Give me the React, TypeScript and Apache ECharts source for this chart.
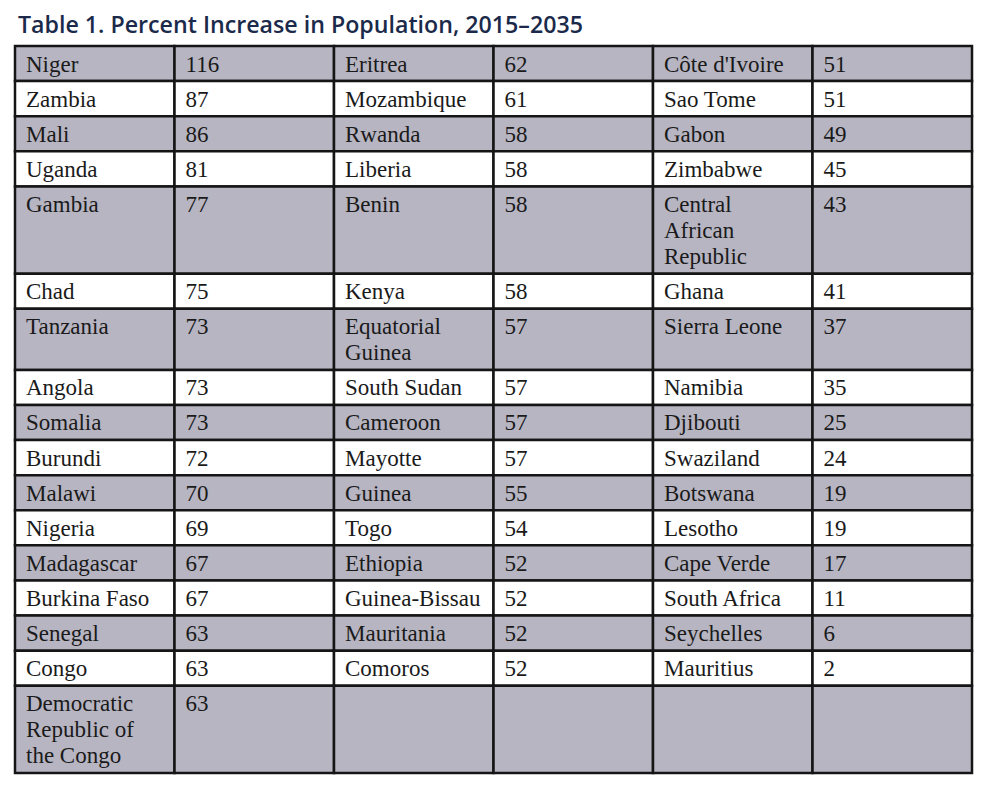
import React, { useEffect, useRef } from "react";
import * as echarts from "echarts";

const titleText = "Table 1. Percent Increase in Population, 2015–2035";

const countries1 = ["Niger", "Zambia", "Mali", "Uganda", "Gambia", "Chad", "Tanzania", "Angola", "Somalia", "Burundi", "Malawi", "Nigeria", "Madagascar", "Burkina Faso", "Senegal", "Congo", "Democratic\nRepublic of\nthe Congo"];
const values1 = ["116", "87", "86", "81", "77", "75", "73", "73", "73", "72", "70", "69", "67", "67", "63", "63", "63"];

const countries2 = ["Eritrea", "Mozambique", "Rwanda", "Liberia", "Benin", "Kenya", "Equatorial\nGuinea", "South Sudan", "Cameroon", "Mayotte", "Guinea", "Togo", "Ethiopia", "Guinea-Bissau", "Mauritania", "Comoros", ""];
const values2 = ["62", "61", "58", "58", "58", "58", "57", "57", "57", "57", "55", "54", "52", "52", "52", "52", ""];

const countries3 = ["Côte d'Ivoire", "Sao Tome", "Gabon", "Zimbabwe", "Central\nAfrican\nRepublic", "Ghana", "Sierra Leone", "Namibia", "Djibouti", "Swaziland", "Botswana", "Lesotho", "Cape Verde", "South Africa", "Seychelles", "Mauritius", ""];
const values3 = ["51", "51", "49", "45", "43", "41", "37", "35", "25", "24", "19", "19", "17", "11", "6", "2", ""];

const groups = [
  { names: countries1, vals: values1 },
  { names: countries2, vals: values2 },
  { names: countries3, vals: values3 },
];

const BASE_ROW = 35;
const LINE_H = 26;
const FONT = "'Liberation Serif', serif";
const FONT_SIZE = 23;
const GRAY = "#b7b5c2";

export default function App() {
  const ref = useRef<HTMLDivElement>(null);

  useEffect(() => {
    if (!ref.current) return;
    const chart = echarts.init(ref.current, undefined, { renderer: "svg" });

    const nRows = countries1.length;
    const lineCounts: number[] = [];
    for (let r = 0; r < nRows; r++) {
      let m = 1;
      groups.forEach((g) => {
        m = Math.max(m, g.names[r].split("\n").length);
      });
      lineCounts.push(m);
    }
    const rowTops: number[] = [0];
    lineCounts.forEach((l, i) => rowTops.push(rowTops[i] + BASE_ROW + LINE_H * (l - 1)));
    const total = rowTops[nRows];

    const data: number[][] = [];
    for (let r = 0; r < nRows; r++) for (let g = 0; g < 3; g++) data.push([r, g]);

    const renderItem = (params: any, api: any) => {
      const r = api.value(0);
      const g = api.value(1);
      const p0 = api.coord([g * 2, rowTops[r]]);
      const p1 = api.coord([g * 2 + 1, rowTops[r + 1]]);
      const p2 = api.coord([g * 2 + 2, rowTops[r + 1]]);
      const fill = r % 2 === 0 ? GRAY : "#ffffff";
      const h = p1[1] - p0[1];
      const cellStyle = { fill, stroke: "#151515", lineWidth: 2.5 };
      const txt = (x: number, text: string) => ({
        type: "text",
        x: x + 11,
        y: p0[1] + 5,
        style: {
          text,
          fontFamily: FONT,
          fontSize: FONT_SIZE,
          lineHeight: LINE_H,
          fill: "#1a1a1a",
          verticalAlign: "top",
          align: "left",
        },
      });
      return {
        type: "group",
        children: [
          { type: "rect", shape: { x: p0[0], y: p0[1], width: p1[0] - p0[0], height: h }, style: cellStyle },
          { type: "rect", shape: { x: p1[0], y: p0[1], width: p2[0] - p1[0], height: h }, style: cellStyle },
          txt(p0[0], groups[g].names[r]),
          txt(p1[0], groups[g].vals[r]),
        ],
      };
    };

    chart.setOption({
      animation: false,
      backgroundColor: "#ffffff",
      title: {
        text: titleText,
        left: 13,
        top: 7,
        textStyle: {
          fontFamily: "'Open Sans', sans-serif",
          fontWeight: 600,
          fontSize: 23.2,
          color: "#1b2a4a",
        },
      },
      grid: { left: 15, top: 46, width: 957, height: total + 2 },
      xAxis: { type: "value", min: 0, max: 6, show: false },
      yAxis: { type: "value", min: 0, max: total, inverse: true, show: false },
      series: [
        {
          type: "custom",
          renderItem,
          data,
          clip: false,
        },
      ],
    });

    return () => chart.dispose();
  }, []);

  return <div ref={ref} style={{ position: "fixed", left: 0, top: 0, width: 1000, height: 786 }} />;
}
